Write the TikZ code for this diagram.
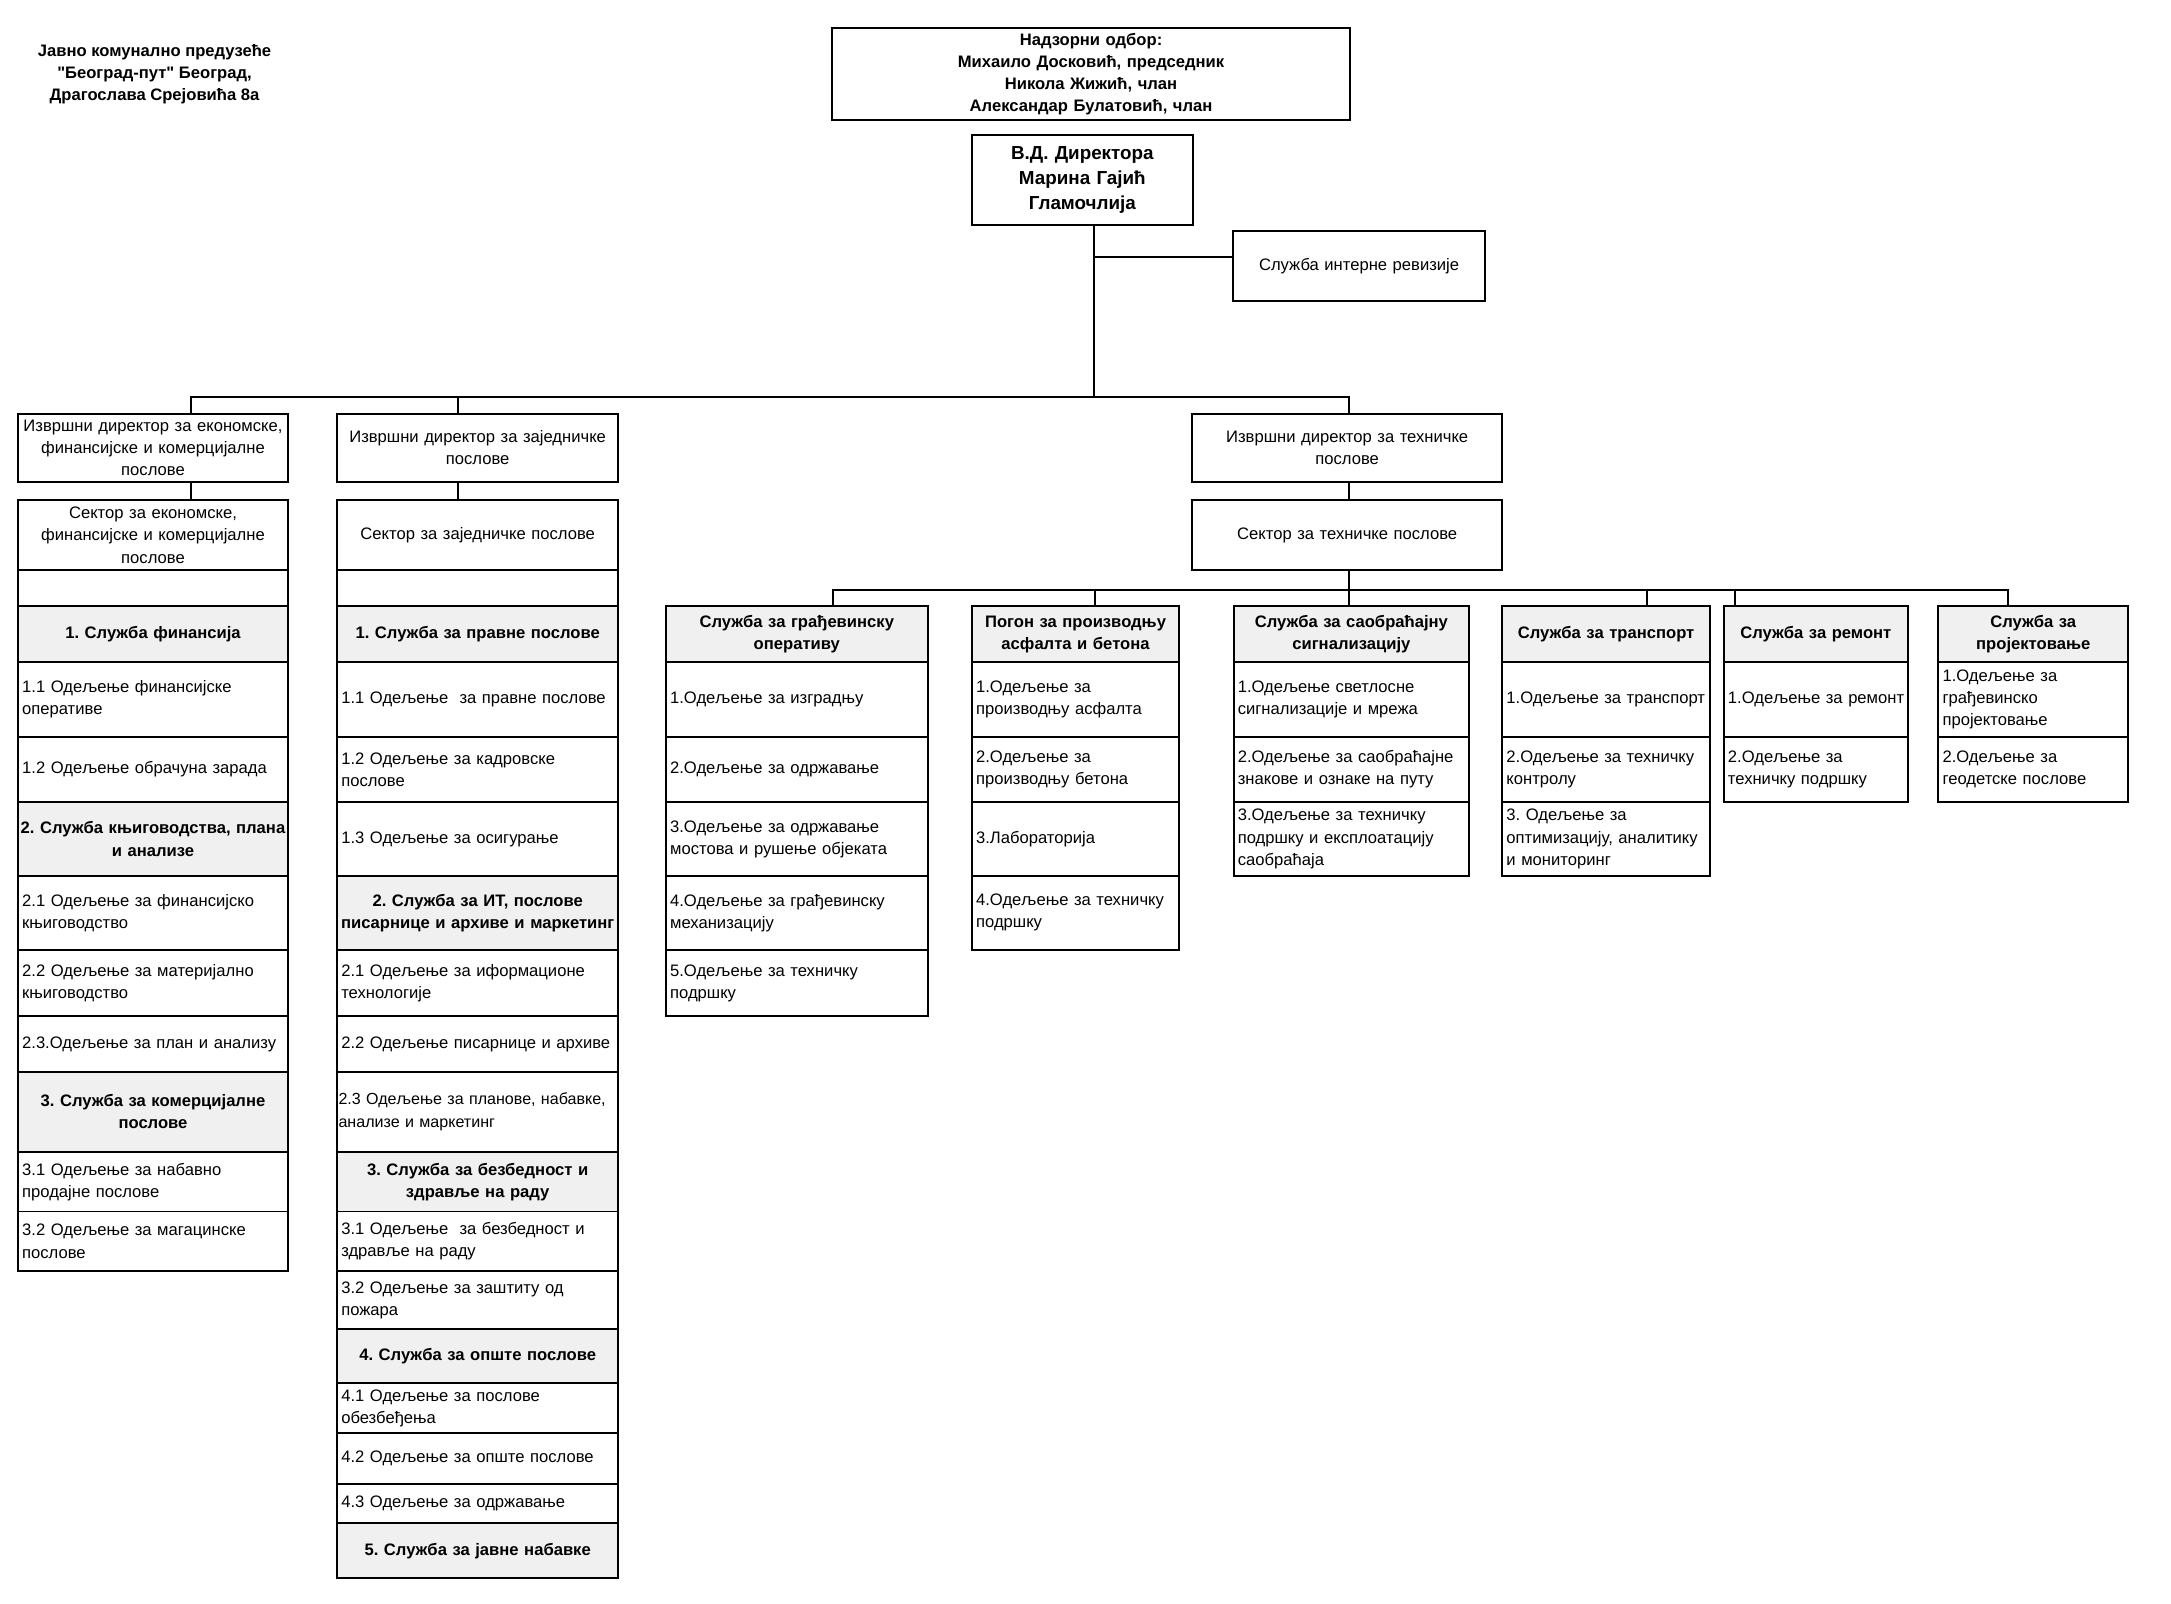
\documentclass[tikz,border=0pt]{standalone}
\usepackage{fontspec}
\setmainfont{Liberation Sans}[Ligatures=TeXOff]
\definecolor{headgray}{HTML}{F0F0F0}
\tikzset{
 base/.style={draw=black, line width=1.4pt, inner sep=0pt, outer sep=0pt, font=\fontsize{12}{16}\selectfont\frenchspacing},
 cbox/.style={base, align=center},
 dept/.style={base, align=left},
 boldbox/.style={base, align=center, font=\fontsize{12}{16}\selectfont\bfseries\frenchspacing},
 head/.style={base, fill=headgray, align=center, font=\fontsize{12}{16}\selectfont\bfseries\frenchspacing},
 conn/.style={line width=1.4pt, draw=black, line join=miter},
}
\newcommand\cellbox[7]{%
 \pgfmathsetmacro\cbW{#4-#2}%
 \pgfmathsetmacro\cbH{#5-#3}%
 \pgfmathsetmacro\cbT{#4-#2-2}%
 \node[#6, minimum width=\cbW pt, minimum height=\cbH pt, text width=\cbT pt] (#1) at ({(#2+#4)/2},{(#3+#5)/2}) {#7};}
\begin{document}
\frenchspacing
\begin{tikzpicture}[x=1pt,y=-1pt]
\useasboundingbox (0,0) rectangle (1568,1158);
% title
\node[font=\fontsize{12}{16}\selectfont\bfseries\frenchspacing, align=center] (title) at (111.6,53.8)
 {Јавно комунално предузеће\\"Београд-пут" Београд,\\Драгослава Срејовића 8а};
% top
\cellbox{board}{601}{20}{975}{87}{boldbox}{Надзорни одбор:\\Михаило Досковић, председник\\Никола Жижић, члан\\Александар Булатовић, члан}
\cellbox{dir}{702}{97.5}{861.4}{162.5}{boldbox, font=\fontsize{13.6}{18.4}\selectfont\bfseries\frenchspacing}{В.Д. Директора\\Марина Гајић\\Гламочлија}
\cellbox{rev}{890.5}{166.6}{1072.7}{217.2}{cbox}{Служба интерне ревизије}
% economic column
\cellbox{e0}{13}{299}{208}{348}{cbox}{Извршни директор за економске,\\финансијске и комерцијалне\\послове}
\cellbox{e1}{13}{361}{208}{412}{cbox}{Сектор за економске,\\финансијске и комерцијалне\\послове}
\cellbox{e2}{13}{412}{208}{438}{cbox}{}
\cellbox{e3}{13}{438}{208}{478}{head}{1. Служба финансија}
\cellbox{e4}{13}{478}{208}{532}{dept}{\,1.1 Одељење финансијске\\\,оперативе}
\cellbox{e5}{13}{532}{208}{579.5}{dept}{\,1.2 Одељење обрачуна зарада}
\cellbox{e6}{13}{579.5}{208}{632.5}{head}{2. Служба књиговодства, плана\\и анализе}
\cellbox{e7}{13}{632.5}{208}{686}{dept}{\,2.1 Одељење за финансијско\\\,књиговодство}
\cellbox{e8}{13}{686}{208}{734}{dept}{\,2.2 Одељење за материјално\\\,књиговодство}
\cellbox{e9}{13}{734}{208}{774}{dept}{\,2.3.Одељење за план и анализу}
\cellbox{e10}{13}{774}{208}{832}{head}{3. Служба за комерцијалне\\послове}
\cellbox{e11}{13}{832}{208}{875}{dept}{\,3.1 Одељење за набавно\\\,продајне послове}
\cellbox{e12}{13}{875}{208}{918}{dept}{\,3.2 Одељење за магацинске\\\,послове}
% common column
\cellbox{z0}{243.5}{299}{446.5}{348}{cbox}{Извршни директор за заједничке\\послове}
\cellbox{z1}{243.5}{361}{446.5}{412}{cbox}{Сектор за заједничке послове}
\cellbox{z2}{243.5}{412}{446.5}{438}{cbox}{}
\cellbox{z3}{243.5}{438}{446.5}{478}{head}{1. Служба за правне послове}
\cellbox{z4}{243.5}{478}{446.5}{532}{dept}{\,1.1 Одељење\ \ за правне послове}
\cellbox{z5}{243.5}{532}{446.5}{579.5}{dept}{\,1.2 Одељење за кадровске\\\,послове}
\cellbox{z6}{243.5}{579.5}{446.5}{632.5}{dept}{\,1.3 Одељење за осигурање}
\cellbox{z7}{243.5}{632.5}{446.5}{686}{head}{2. Служба за ИТ, послове\\писарнице и архиве и маркетинг}
\cellbox{z8}{243.5}{686}{446.5}{734}{dept}{\,2.1 Одељење за иформационе\\\,технологије}
\cellbox{z9}{243.5}{734}{446.5}{774}{dept}{\,2.2 Одељење писарнице и архиве}
\cellbox{z10}{243.5}{774}{446.5}{832}{dept, font=\fontsize{11.6}{16}\selectfont\frenchspacing}{\mbox{2.3 Одељење за планове, набавке,}\\анализе и маркетинг}
\cellbox{z11}{243.5}{832}{446.5}{875}{head}{3. Служба за безбедност и\\здравље на раду}
\cellbox{z12}{243.5}{875}{446.5}{918}{dept}{\,3.1 Одељење\ \ за безбедност и\\\,здравље на раду}
\cellbox{z13}{243.5}{918}{446.5}{960}{dept}{\,3.2 Одељење за заштиту од\\\,пожара}
\cellbox{z14}{243.5}{960}{446.5}{999}{head}{4. Служба за опште послове}
\cellbox{z15}{243.5}{999}{446.5}{1035}{dept}{\,4.1 Одељење за послове\\\,обезбеђења}
\cellbox{z16}{243.5}{1035}{446.5}{1072}{dept}{\,4.2 Одељење за опште послове}
\cellbox{z17}{243.5}{1072}{446.5}{1100}{dept}{\,4.3 Одељење за одржавање}
\cellbox{z18}{243.5}{1100}{446.5}{1140}{head}{5. Служба за јавне набавке}
% technical
\cellbox{t0}{861}{299}{1085}{348}{cbox}{Извршни директор за техничке\\послове}
\cellbox{t1}{861}{361}{1085}{412}{cbox}{Сектор за техничке послове}
% construction
\cellbox{g0}{481}{438}{670}{478}{head}{Служба за грађевинску\\оперативу}
\cellbox{g1}{481}{478}{670}{532}{dept}{\,1.Одељење за изградњу}
\cellbox{g2}{481}{532}{670}{579.5}{dept}{\,2.Одељење за одржавање}
\cellbox{g3}{481}{579.5}{670}{632.5}{dept}{\,3.Одељење за одржавање\\\,мостова и рушење објеката}
\cellbox{g4}{481}{632.5}{670}{686}{dept}{\,4.Одељење за грађевинску\\\,механизацију}
\cellbox{g5}{481}{686}{670}{734}{dept}{\,5.Одељење за техничку\\\,подршку}
% plant
\cellbox{p0}{702}{438}{851.6}{478}{head}{Погон за производњу\\асфалта и бетона}
\cellbox{p1}{702}{478}{851.6}{532}{dept}{\,1.Одељење за\\\,производњу асфалта}
\cellbox{p2}{702}{532}{851.6}{579.5}{dept}{\,2.Одељење за\\\,производњу бетона}
\cellbox{p3}{702}{579.5}{851.6}{632.5}{dept}{\,3.Лабораторија}
\cellbox{p4}{702}{632.5}{851.6}{686}{dept}{\,4.Одељење за техничку\\\,подршку}
% signalisation
\cellbox{s0}{891}{438}{1061}{478}{head}{Служба за саобраћајну\\сигнализацију}
\cellbox{s1}{891}{478}{1061}{532}{dept}{\,1.Одељење светлосне\\\,сигнализације и мрежа}
\cellbox{s2}{891}{532}{1061}{579.5}{dept}{\,2.Одељење за саобраћајне\\\,знакове и ознаке на путу}
\cellbox{s3}{891}{579.5}{1061}{632.5}{dept}{\,3.Одељење за техничку\\\,подршку и експлоатацију\\\,саобраћаја}
% transport
\cellbox{r0}{1085}{438}{1235}{478}{head}{Служба за транспорт}
\cellbox{r1}{1085}{478}{1235}{532}{dept}{\,1.Одељење за транспорт}
\cellbox{r2}{1085}{532}{1235}{579.5}{dept}{\,2.Одељење за техничку\\\,контролу}
\cellbox{r3}{1085}{579.5}{1235}{632.5}{dept}{\,3. Одељење за\\\,оптимизацију, аналитику\\\,и мониторинг}
% repair
\cellbox{m0}{1245}{438}{1378}{478}{head}{Служба за ремонт}
\cellbox{m1}{1245}{478}{1378}{532}{dept}{\,1.Одељење за ремонт}
\cellbox{m2}{1245}{532}{1378}{579.5}{dept}{\,2.Одељење за\\\,техничку подршку}
% design
\cellbox{j0}{1400}{438}{1537}{478}{head}{Служба за\\пројектовање}
\cellbox{j1}{1400}{478}{1537}{532}{dept}{\,1.Одељење за\\\,грађевинско\\\,пројектовање}
\cellbox{j2}{1400}{532}{1537}{579.5}{dept}{\,2.Одељење за\\\,геодетске послове}
% connectors
\coordinate (bM) at (790,286.5);
\coordinate (bL) at (137.7,286.5);
\coordinate (bZ) at (330.5,286.5);
\coordinate (bT) at (974.5,286.5);
\draw[conn] (dir.south -| bM) -- (bM);
\draw[conn] ([yshift=6.4pt]rev.west) -- ([yshift=6.4pt]rev.west -| bM);
\draw[conn] (bL |- e0.north) -- (bL) -- (bT) -- (bT |- t0.north);
\draw[conn] (bZ) -- (bZ |- z0.north);
\draw[conn] (bL |- e0.south) -- (bL |- e1.north);
\draw[conn] (bZ |- z0.south) -- (bZ |- z1.north);
\draw[conn] (bT |- t0.south) -- (bT |- t1.north);
\coordinate (lG) at (601.6,426);
\coordinate (lP) at (790.6,426);
\coordinate (lS) at (974.5,426);
\coordinate (lR) at (1189.5,426);
\coordinate (lM) at (1253,426);
\coordinate (lJ) at (1450,426);
\draw[conn] (lG |- g0.north) -- (lG) -- (lJ) -- (lJ |- j0.north);
\draw[conn] (lS |- t1.south) -- (lS |- s0.north);
\draw[conn] (lP) -- (lP |- p0.north);
\draw[conn] (lR) -- (lR |- r0.north);
\draw[conn] (lM) -- (lM |- m0.north);
\end{tikzpicture}
\end{document}
